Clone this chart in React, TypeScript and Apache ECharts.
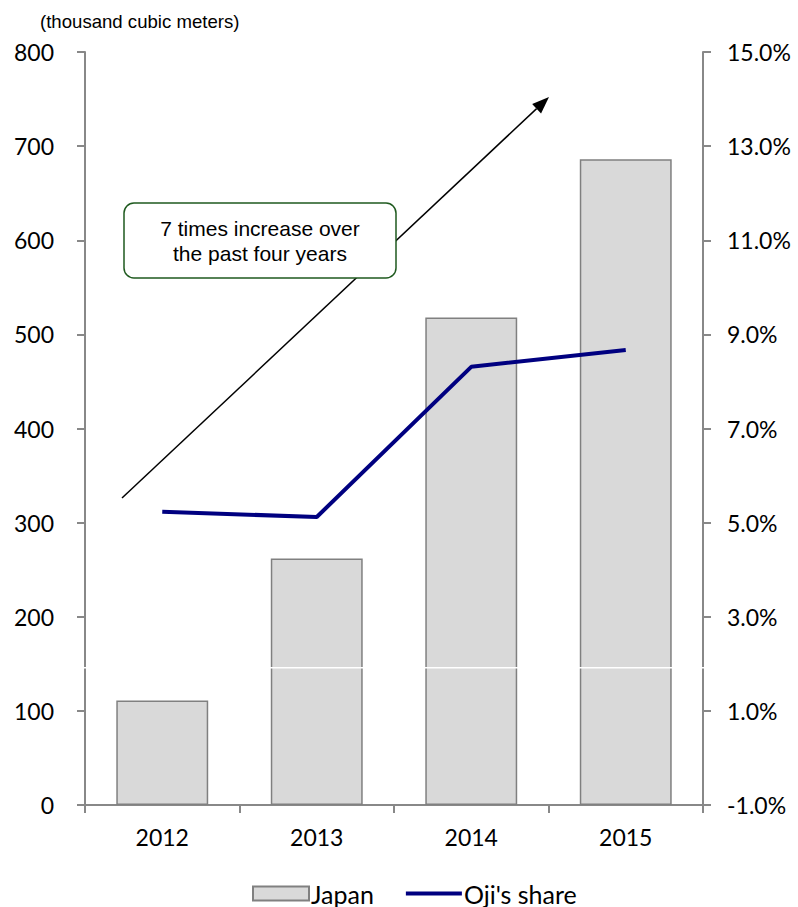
import React, { useEffect, useRef } from "react";
import * as echarts from "echarts";

const categories = ["2012", "2013", "2014", "2015"];
const japanVolume = [111, 262, 518, 686];
const ojiShare = [5.23, 5.12, 8.31, 8.67];
const leftTicks = { min: 0, max: 800, interval: 100 };
const rightTicks = { min: -1, max: 15, interval: 2 };

export default function App() {
  const ref = useRef<HTMLDivElement>(null);
  useEffect(() => {
    if (!ref.current) return;
    const chart = echarts.init(ref.current, null, { renderer: "svg" });
    const tickFont = "Lato";
    // arrow geometry
    const x1 = 122, y1 = 498, x2 = 549, y2 = 97;
    const dx = x2 - x1, dy = y2 - y1;
    const len = Math.sqrt(dx * dx + dy * dy);
    const ux = dx / len, uy = dy / len;
    const hl = 17, hw = 6.5;
    const bx = x2 - ux * hl, by = y2 - uy * hl;
    const head = [
      [x2, y2],
      [bx - uy * hw, by + ux * hw],
      [bx + uy * hw, by - ux * hw],
    ];
    chart.setOption({
      animation: false,
      grid: { left: 85, right: 95, top: 52, bottom: 102 },
      legend: {
        top: 876,
        left: 247,
        itemGap: 30,
        itemWidth: 56,
        itemHeight: 14,
        textStyle: { fontFamily: tickFont, fontSize: 25, color: "#000", padding: [0, 0, 0, -3] },
        data: [
          { name: "Japan", icon: "rect" },
          {
            name: "Oji's share",
            itemStyle: { color: "transparent", borderWidth: 0, opacity: 0 },
            lineStyle: { width: 4, color: "#000080" },
          },
        ],
      },
      xAxis: {
        type: "category",
        data: categories,
        axisLine: { lineStyle: { color: "#888", width: 2 } },
        axisTick: { show: true, length: 8, alignWithLabel: false, lineStyle: { color: "#888", width: 2 } },
        axisLabel: { fontFamily: tickFont, fontSize: 23, color: "#000", margin: 20 },
      },
      yAxis: [
        {
          type: "value",
          min: leftTicks.min,
          max: leftTicks.max,
          interval: leftTicks.interval,
          axisLine: { show: true, lineStyle: { color: "#888", width: 2 } },
          axisTick: { show: true, length: 8, lineStyle: { color: "#888", width: 2 } },
          splitLine: { show: false },
          axisLabel: { fontFamily: tickFont, fontSize: 23, color: "#000", margin: 31 },
        },
        {
          type: "value",
          min: rightTicks.min,
          max: rightTicks.max,
          interval: rightTicks.interval,
          axisLine: { show: true, lineStyle: { color: "#888", width: 2 } },
          axisTick: { show: true, length: 8, lineStyle: { color: "#888", width: 2 } },
          splitLine: { show: false },
          axisLabel: {
            fontFamily: tickFont,
            fontSize: 23,
            color: "#000",
            margin: 24,
            formatter: (v: number) => v.toFixed(1) + "%",
          },
        },
      ],
      series: [
        {
          name: "Japan",
          type: "bar",
          data: japanVolume,
          barWidth: "59.5%",
          itemStyle: { color: "#d9d9d9", borderColor: "#808080", borderWidth: 1.5 },
        },
        {
          name: "Oji's share",
          type: "line",
          yAxisIndex: 1,
          data: ojiShare,
          symbol: "none",
          lineStyle: { color: "#000080", width: 4 },
          itemStyle: { color: "#000080" },
        },
      ],
      graphic: [
        {
          type: "text",
          x: 40,
          y: 21,
          style: {
            text: "(thousand cubic meters)",
            fontFamily: "Liberation Sans",
            fontSize: 18.6,
            fill: "#000",
            align: "left",
            verticalAlign: "middle",
          },
        },
        { type: "rect", shape: { x: 70, y: 667, width: 650, height: 1.5 }, style: { fill: "#fff" }, z: 100 },
        { type: "line", shape: { x1, y1, x2: bx, y2: by }, style: { stroke: "#000", lineWidth: 1.5 }, z: 100 },
        { type: "polygon", shape: { points: head }, style: { fill: "#000" }, z: 100 },
        {
          type: "rect",
          shape: { x: 124, y: 203, width: 272, height: 75, r: 10 },
          style: { fill: "#fff", stroke: "#1f5a1f", lineWidth: 1.5 },
          z: 101,
        },
        {
          type: "text",
          x: 260,
          y: 241,
          style: {
            text: "7 times increase over\nthe past four years",
            fontFamily: "Liberation Sans",
            fontSize: 21,
            lineHeight: 25,
            fill: "#000",
            align: "center",
            verticalAlign: "middle",
          },
          z: 102,
        },
      ],
    });
    return () => chart.dispose();
  }, []);
  return (
    <div
      ref={ref}
      style={{ position: "absolute", left: 0, top: 0, width: 798, height: 907 }}
    />
  );
}
